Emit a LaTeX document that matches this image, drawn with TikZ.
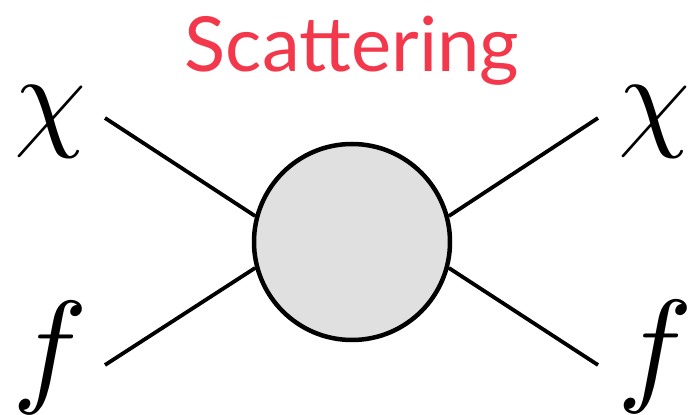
\documentclass[tikz,border=0pt]{standalone}
\usepackage{amsmath}
\usepackage{xcolor}
\usepackage{fontspec}
\newfontfamily\titlefont{Lato}
\usepackage{tikz}
\usetikzlibrary{positioning}

\definecolor{titlered}{RGB}{242,56,74}

\begin{document}
\begin{tikzpicture}[
    x=1pt, y=1pt,
    blob/.style={circle, draw, line width=4.5pt, fill=black!12, minimum size=196pt, inner sep=0pt},
    leg/.style={line width=3.8pt},
    particle/.style={inner sep=0pt, scale=11.5}
]
\useasboundingbox (0,0) rectangle (689,415);

% Title
\node[anchor=base, text=titlered, scale=7.6] (title) at (352,343) {\titlefont Scattering};

% Interaction blob
\node[blob] (vertex) at (352,173) {};

% Incoming side
\node[particle] (chiin) at (50,293) {$\chi$};
\node[particle, scale=1.1] (fin) at (50,57) {$f$};
\coordinate (a1) at (105,297);
\coordinate (a2) at (105,50);

% Outgoing side
\node[particle] (chiout) at (654,293) {$\chi$};
\node[particle, scale=1.1] (fout) at (655,58) {$f$};
\coordinate (b1) at (598,297);
\coordinate (b2) at (598,50);

% Legs
\draw[leg] (a1) -- (vertex.165);
\draw[leg] (a2) -- (vertex.195);
\draw[leg] (vertex.15) -- (b1);
\draw[leg] (vertex.-15) -- (b2);

\end{tikzpicture}
\end{document}
